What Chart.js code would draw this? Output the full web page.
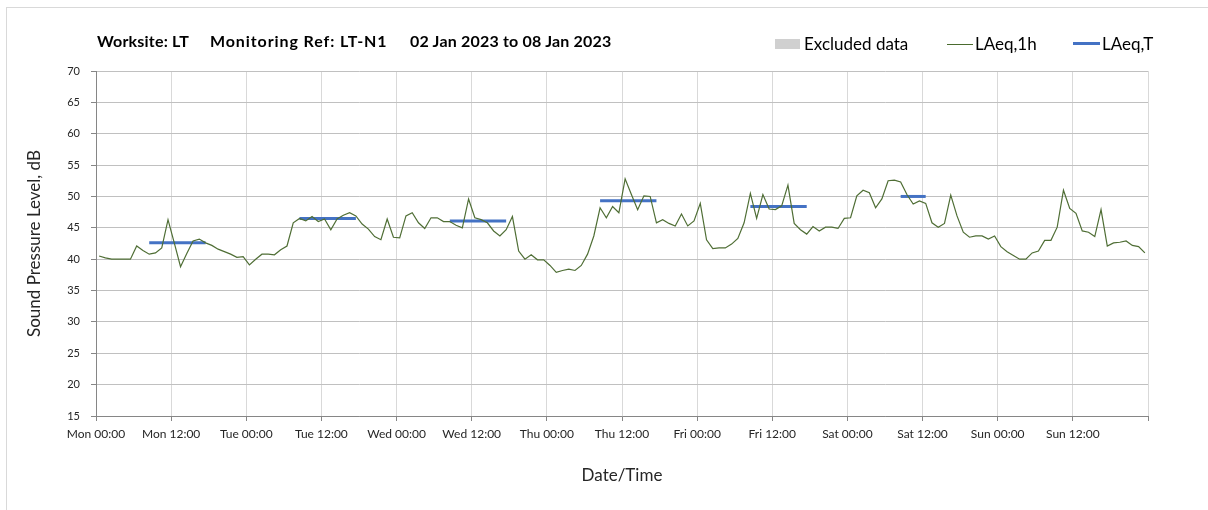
<!DOCTYPE html>
<html>
<head>
<meta charset="utf-8">
<script src="https://cdn.jsdelivr.net/npm/chart.js@4.4.1/dist/chart.umd.min.js"></script>
<style>
  html, body { margin: 0; padding: 0; background: #fff; }
  body { width: 1208px; height: 510px; position: relative; overflow: hidden; font-family: Lato, Calibri, sans-serif; }
  #frame { position: absolute; left: 6px; top: 7px; width: 1220px; height: 520px; border: 1px solid #d9d9d9; box-sizing: border-box; }
  #chart { position: absolute; left: 0; top: 0; }
  .title { position: absolute; top: 31px; font-weight: bold; font-size: 16px; line-height: 19px; color: #000; white-space: nowrap; letter-spacing: 0.2px; }
  .lg { position: absolute; top: 34px; font-size: 17px; line-height: 20px; color: #000; white-space: nowrap; }
  .sw { position: absolute; }
</style>
</head>
<body>
<div id="frame"></div>
<canvas id="chart" width="1208" height="510"></canvas>

<div class="title" style="left:97px">Worksite: LT</div>
<div class="title" style="left:210px;letter-spacing:0.9px">Monitoring Ref: LT-N1</div>
<div class="title" style="left:410px">02 Jan 2023 to 08 Jan 2023</div>

<div class="sw" style="left:775px;top:39px;width:25px;height:10px;background:#d0d0d0"></div>
<div class="lg" style="left:804px">Excluded data</div>
<div class="sw" style="left:947px;top:44px;width:26px;height:1px;background:#4a6b2e"></div>
<div class="lg" style="left:975px">LAeq,1h</div>
<div class="sw" style="left:1073px;top:42px;width:27px;height:3px;background:#4472c4"></div>
<div class="lg" style="left:1102px">LAeq,T</div>

<script>
// ── Data ────────────────────────────────────────────────
const tickLabels = [
  'Mon 00:00', 'Mon 12:00', 'Tue 00:00', 'Tue 12:00', 'Wed 00:00', 'Wed 12:00', 'Thu 00:00',
  'Thu 12:00', 'Fri 00:00', 'Fri 12:00', 'Sat 00:00', 'Sat 12:00', 'Sun 00:00', 'Sun 12:00',
];

// hourly LAeq,1h, Mon 00:00 .. Sun 23:00
const laeq1h = [
  40.5, 40.2, 40.0, 40.0, 40.0, 40.0, 42.1, 41.4, 40.8, 41.0, 41.8, 46.3, 42.6, 38.8, 40.9, 42.9, 43.2, 42.6, 42.2, 41.6, 41.2, 40.8, 40.3, 40.4,
  39.1, 40.0, 40.8, 40.8, 40.7, 41.5, 42.1, 45.8, 46.5, 46.1, 46.8, 46.0, 46.4, 44.7, 46.4, 47.0, 47.4, 46.9, 45.6, 44.8, 43.6, 43.1, 46.4, 43.5,
  43.4, 46.9, 47.4, 45.8, 44.9, 46.6, 46.6, 46.0, 46.0, 45.4, 45.0, 49.6, 46.6, 46.3, 45.8, 44.5, 43.7, 44.7, 46.8, 41.3, 40.0, 40.7, 39.9, 39.9,
  39.0, 37.9, 38.2, 38.4, 38.2, 39.0, 40.8, 43.7, 48.2, 46.6, 48.4, 47.4, 52.8, 50.3, 47.9, 50.1, 50.0, 45.8, 46.3, 45.7, 45.3, 47.2, 45.3, 46.1,
  48.9, 43.1, 41.7, 41.8, 41.8, 42.4, 43.3, 45.8, 50.5, 46.5, 50.3, 48.0, 47.9, 48.5, 51.8, 45.7, 44.7, 44.0, 45.2, 44.5, 45.1, 45.1, 44.9, 46.5,
  46.6, 50.1, 51.0, 50.6, 48.2, 49.6, 52.5, 52.6, 52.3, 50.3, 48.8, 49.3, 48.9, 45.8, 45.1, 45.7, 50.2, 46.9, 44.3, 43.5, 43.7, 43.7, 43.2, 43.7,
  42.0, 41.2, 40.6, 40.0, 40.0, 41.0, 41.3, 43.0, 43.0, 45.1, 51.0, 48.1, 47.3, 44.5, 44.3, 43.6, 47.9, 42.1, 42.6, 42.7, 42.9, 42.2, 42.0, 41.0,
];

// LAeq,T over each assessment period (hours from Mon 00:00)
const periodStart = [8, 32, 56, 80, 104, 128];
const periodEnd   = [18, 42, 66, 90, 114, 133];
const laeqT       = [42.6, 46.5, 46.1, 49.3, 48.4, 50.0];

// ── Chart ───────────────────────────────────────────────
const hourly = laeq1h.map((v, i) => ({ x: i + 0.5, y: v }));

const periodSets = laeqT.map((v, i) => ({
  label: 'LAeq,T',
  data: [{ x: periodStart[i] + 0.5, y: v }, { x: periodEnd[i] - 0.5, y: v }],
  borderColor: '#4472c4',
  borderWidth: 3,
  borderCapStyle: 'butt',
  pointRadius: 0,
}));

const fam = 'Lato, Calibri, sans-serif';

new Chart(document.getElementById('chart'), {
  type: 'line',
  data: {
    datasets: [
      {
        label: 'LAeq,1h',
        data: hourly,
        borderColor: '#4f6e35',
        borderWidth: 1.2,
        pointRadius: 0,
        tension: 0,
      },
      ...periodSets,
    ],
  },
  options: {
    responsive: false,
    animation: false,
    events: [],
    layout: { padding: { top: 71, right: 60, left: 0, bottom: 0 } },
    plugins: { legend: { display: false }, title: { display: false }, tooltip: { enabled: false } },
    scales: {
      x: {
        type: 'linear',
        min: 0,
        max: 168,
        afterFit: s => { s.height = 94; },
        border: { color: '#868686' },
        grid: { color: '#d9d9d9', tickColor: '#868686', tickLength: 5 },
        ticks: {
          stepSize: 12,
          autoSkip: false,
          maxRotation: 0,
          padding: 6,
          color: '#262626',
          font: { family: fam, size: 12 },
          callback: v => tickLabels[v / 12] || '',
        },
        title: {
          display: true,
          text: 'Date/Time',
          color: '#262626',
          font: { family: fam, size: 17 },
          padding: { top: 0, bottom: 24 },
        },
      },
      y: {
        min: 15,
        max: 70,
        afterFit: s => { s.width = 96; },
        border: { color: '#868686' },
        grid: { color: '#c0c0c0', tickColor: '#868686', tickLength: 5 },
        ticks: {
          stepSize: 5,
          padding: 11,
          color: '#262626',
          font: { family: fam, size: 11 },
        },
        title: {
          display: true,
          text: 'Sound Pressure Level, dB',
          color: '#262626',
          font: { family: fam, size: 17 },
          padding: { top: 24, bottom: 0 },
        },
      },
    },
  },
});
</script>
</body>
</html>
